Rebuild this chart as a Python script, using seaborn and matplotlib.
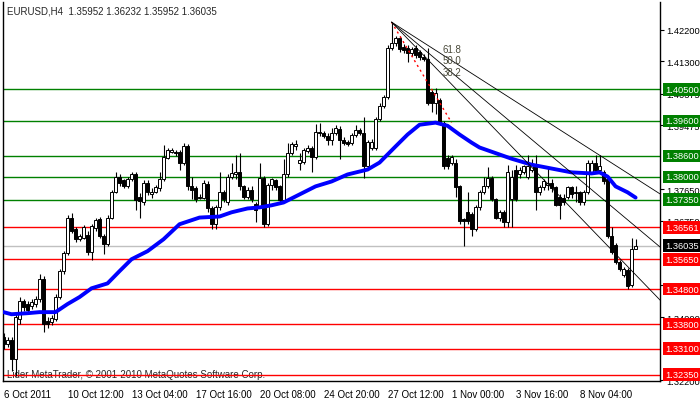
import numpy as np
import pandas as pd
import seaborn as sns
import matplotlib.pyplot as plt
from matplotlib.transforms import blended_transform_factory

# EURUSD H4 candles (one value per bar, left to right)
opens = [1.3343, 1.3323, 1.3334, 1.3280, 1.3394, 1.3445, 1.3437, 1.3431, 1.3437, 1.3451,
         1.3508, 1.3388, 1.3385, 1.3394, 1.3457, 1.3531, 1.3582, 1.3684, 1.3650, 1.3622,
         1.3627, 1.3633, 1.3585, 1.3653, 1.3679, 1.3630, 1.3608, 1.3684, 1.3758, 1.3801,
         1.3790, 1.3773, 1.3793, 1.3807, 1.3744, 1.3727, 1.3784, 1.3750, 1.3758, 1.3767,
         1.3793, 1.3855, 1.3872, 1.3872, 1.3872, 1.3841, 1.3889, 1.3775, 1.3767, 1.3744,
         1.3741, 1.3781, 1.3710, 1.3665, 1.3713, 1.3758, 1.3727, 1.3801, 1.3807, 1.3815,
         1.3773, 1.3744, 1.3764, 1.3724, 1.3716, 1.3798, 1.3665, 1.3778, 1.3790, 1.3773,
         1.3733, 1.3807, 1.3869, 1.3889, 1.3841, 1.3844, 1.3875, 1.3884, 1.3858, 1.3929,
         1.3924, 1.3918, 1.3906, 1.3926, 1.3938, 1.3906, 1.3901, 1.3898, 1.3921, 1.3935,
         1.3926, 1.3830, 1.3884, 1.3884, 1.3966, 1.4003, 1.4029, 1.4168, 1.4183, 1.4197,
         1.4171, 1.4168, 1.4154, 1.4168, 1.4157, 1.4143, 1.4137, 1.4043, 1.4012, 1.4020,
         1.3955, 1.3855, 1.3841, 1.3841, 1.3773, 1.3679, 1.3699, 1.3693, 1.3650, 1.3713,
         1.3756, 1.3773, 1.3798, 1.3736, 1.3684, 1.3701, 1.3670, 1.3736, 1.3821, 1.3807,
         1.3815, 1.3801, 1.3821, 1.3835, 1.3756, 1.3770, 1.3778, 1.3784, 1.3770, 1.3744,
         1.3741, 1.3744, 1.3770, 1.3756, 1.3756, 1.3727, 1.3756, 1.3813, 1.3841, 1.3821,
         1.3815, 1.3795, 1.3630, 1.3605, 1.3556, 1.3519, 1.3534, 1.3491, 1.35952]
highs = [1.3354, 1.3343, 1.3343, 1.3408, 1.3457, 1.3451, 1.3445, 1.3451, 1.3460, 1.3522,
         1.3516, 1.3400, 1.3405, 1.3465, 1.3536, 1.3588, 1.3690, 1.3696, 1.3656, 1.3636,
         1.3662, 1.3645, 1.3665, 1.3682, 1.3687, 1.3636, 1.3690, 1.3764, 1.3815, 1.3807,
         1.3795, 1.3801, 1.3815, 1.3815, 1.3753, 1.3790, 1.3790, 1.3767, 1.3778, 1.3813,
         1.3892, 1.3884, 1.3884, 1.3878, 1.3878, 1.3898, 1.3895, 1.3801, 1.3775, 1.3750,
         1.3790, 1.3787, 1.3716, 1.3721, 1.3815, 1.3764, 1.3807, 1.3841, 1.3864, 1.3869,
         1.3778, 1.3770, 1.3773, 1.3727, 1.3841, 1.3804, 1.3784, 1.3798, 1.3795, 1.3778,
         1.3850, 1.3898, 1.3901, 1.3906, 1.3869, 1.3884, 1.3892, 1.3889, 1.3952, 1.3955,
         1.3932, 1.3926, 1.3941, 1.3949, 1.3944, 1.3915, 1.3906, 1.3926, 1.3949, 1.3941,
         1.3972, 1.3906, 1.3909, 1.3972, 1.4012, 1.4035, 1.4177, 1.4242, 1.4203, 1.4203,
         1.4180, 1.4177, 1.4171, 1.4177, 1.4163, 1.4151, 1.4168, 1.4049, 1.4054, 1.4026,
         1.3961, 1.3864, 1.3864, 1.3850, 1.3778, 1.3684, 1.3758, 1.3699, 1.3719, 1.3764,
         1.3801, 1.3827, 1.3804, 1.3741, 1.3707, 1.3707, 1.3835, 1.3821, 1.3835, 1.3827,
         1.3835, 1.3864, 1.3850, 1.3864, 1.3778, 1.3793, 1.3827, 1.3793, 1.3775, 1.3750,
         1.3750, 1.3775, 1.3775, 1.3773, 1.3761, 1.3764, 1.3847, 1.3847, 1.3864, 1.3864,
         1.3821, 1.3801, 1.3656, 1.3610, 1.3562, 1.3542, 1.3539, 1.3627, 1.36232]
lows = [1.3309, 1.3314, 1.3246, 1.3232, 1.3380, 1.3417, 1.3411, 1.3422, 1.3428, 1.3442,
        1.3357, 1.3368, 1.3377, 1.3388, 1.3451, 1.3522, 1.3576, 1.3639, 1.3613, 1.3616,
        1.3622, 1.3576, 1.3562, 1.3647, 1.3625, 1.3579, 1.3602, 1.3679, 1.3753, 1.3775,
        1.3767, 1.3767, 1.3787, 1.3707, 1.3682, 1.3721, 1.3747, 1.3741, 1.3753, 1.3761,
        1.3787, 1.3850, 1.3867, 1.3861, 1.3821, 1.3835, 1.3764, 1.3736, 1.3727, 1.3736,
        1.3736, 1.3699, 1.3650, 1.3650, 1.3707, 1.3727, 1.3721, 1.3793, 1.3793, 1.3764,
        1.3736, 1.3736, 1.3727, 1.3670, 1.3710, 1.3656, 1.3659, 1.3764, 1.3764, 1.3727,
        1.3727, 1.3801, 1.3864, 1.3878, 1.3821, 1.3838, 1.3869, 1.3815, 1.3852, 1.3918,
        1.3912, 1.3892, 1.3892, 1.3921, 1.3850, 1.3892, 1.3889, 1.3892, 1.3915, 1.3921,
        1.3798, 1.3824, 1.3878, 1.3878, 1.3961, 1.3998, 1.4023, 1.4163, 1.4174, 1.4157,
        1.4154, 1.4129, 1.4146, 1.4140, 1.4134, 1.4131, 1.4006, 1.3986, 1.3980, 1.3949,
        1.3824, 1.3824, 1.3833, 1.3744, 1.3667, 1.3602, 1.3665, 1.3630, 1.3645, 1.3707,
        1.3750, 1.3767, 1.3730, 1.3679, 1.3673, 1.3656, 1.3656, 1.3656, 1.3730, 1.3798,
        1.3807, 1.3795, 1.3815, 1.3707, 1.3747, 1.3764, 1.3764, 1.3758, 1.3716, 1.3679,
        1.3721, 1.3736, 1.3741, 1.3727, 1.3721, 1.3721, 1.3750, 1.3807, 1.3815, 1.3815,
        1.3781, 1.3625, 1.3579, 1.3551, 1.3531, 1.3514, 1.3479, 1.3485, 1.35952]
closes = [1.3323, 1.3334, 1.3280, 1.3400, 1.3445, 1.3428, 1.3420, 1.3442, 1.3451, 1.3508,
          1.3380, 1.3380, 1.3397, 1.3457, 1.3531, 1.3582, 1.3684, 1.3645, 1.3622, 1.3630,
          1.3656, 1.3585, 1.3659, 1.3676, 1.3630, 1.3608, 1.3684, 1.3758, 1.3801, 1.3784,
          1.3775, 1.3793, 1.3807, 1.3733, 1.3730, 1.3784, 1.3756, 1.3758, 1.3770, 1.3795,
          1.3858, 1.3878, 1.3878, 1.3867, 1.3841, 1.3889, 1.3773, 1.3764, 1.3738, 1.3741,
          1.3784, 1.3710, 1.3665, 1.3713, 1.3758, 1.3736, 1.3801, 1.3810, 1.3815, 1.3773,
          1.3744, 1.3764, 1.3736, 1.3707, 1.3798, 1.3665, 1.3778, 1.3793, 1.3770, 1.3733,
          1.3807, 1.3869, 1.3895, 1.3895, 1.3847, 1.3878, 1.3884, 1.3858, 1.3929, 1.3924,
          1.3918, 1.3906, 1.3926, 1.3941, 1.3906, 1.3898, 1.3895, 1.3921, 1.3935, 1.3926,
          1.3832, 1.3901, 1.3901, 1.3966, 1.4003, 1.4029, 1.4168, 1.4183, 1.4197, 1.4165,
          1.4163, 1.4154, 1.4165, 1.4148, 1.4143, 1.4137, 1.4012, 1.4012, 1.4040, 1.3958,
          1.3830, 1.3830, 1.3858, 1.3770, 1.3673, 1.3673, 1.3673, 1.3650, 1.3713, 1.3756,
          1.3773, 1.3798, 1.3736, 1.3684, 1.3701, 1.3670, 1.3813, 1.3801, 1.3736, 1.3821,
          1.3830, 1.3832, 1.3835, 1.3758, 1.3770, 1.3787, 1.3784, 1.3767, 1.3721, 1.3721,
          1.3727, 1.3770, 1.3750, 1.3753, 1.3727, 1.3756, 1.3841, 1.3841, 1.3821, 1.3830,
          1.3787, 1.3630, 1.3585, 1.3556, 1.3536, 1.3536, 1.3488, 1.3593, 1.36035]

# moving average (blue line), read at selected bars
ma_bars = [0, 2, 6, 9, 13, 16, 19, 22, 26, 29, 32, 36, 40, 44, 49, 54, 57, 61, 64, 67,
           70, 74, 78, 82, 86, 91, 94, 98, 101, 104, 108, 111, 114, 117, 119, 124, 127,
           132, 137, 142, 147, 149, 151, 153, 156, 158]
ma_values = [1.3414, 1.3408, 1.3411, 1.3414, 1.3414, 1.3437, 1.3457, 1.3482, 1.3496, 1.3531,
             1.3565, 1.3588, 1.3622, 1.3665, 1.3684, 1.3687, 1.3699, 1.3710, 1.3713, 1.3719,
             1.3727, 1.3750, 1.3773, 1.3787, 1.3807, 1.3821, 1.3841, 1.3887, 1.3921, 1.3949,
             1.3955, 1.3946, 1.3921, 1.3898, 1.3884, 1.3864, 1.3852, 1.3835, 1.3824, 1.3813,
             1.3810, 1.3813, 1.3801, 1.3773, 1.3756, 1.3741]

green_levels = [1.40500, 1.39600, 1.38600, 1.38000, 1.37350]
red_levels = [1.36561, 1.35650, 1.34800, 1.33800, 1.33100, 1.32350]
bid_price = 1.36035

# scale labels (the ones fully covered by level boxes are left out)
price_ticks = [1.42200, 1.41300, 1.40375, 1.39475, 1.37650,
               1.36750, 1.34925, 1.34000, 1.32200]
date_ticks = [0, 16, 32, 48, 64, 80, 96, 112, 128, 144]
date_labels = ['6 Oct 2011', '10 Oct 12:00', '13 Oct 04:00', '17 Oct 16:00', '20 Oct 08:00',
               '24 Oct 20:00', '27 Oct 12:00', '1 Nov 00:00', '3 Nov 16:00', '8 Nov 04:00']

# Fibonacci fan: from the high (bar 97) to the base point
fan_start = (97, 1.4242)
fan_end = (112, 1.3955)
fan_ratios = [0.382, 0.5, 0.618]
fan_labels = ['61.8', '50.0', '38.2']

header = 'EURUSD,H4  1.35952 1.36232 1.35952 1.36035'
copyright_text = 'Lider MetaTrader, \u00a9 2001-2010 MetaQuotes Software Corp.'

GREEN = '#008000'
RED = '#FF0000'
FS = 7
FS_SCALE = 6.7

sns.set_style('white')
plt.rcParams['font.family'] = ['Liberation Sans', 'DejaVu Sans']

df = pd.DataFrame({'open': opens, 'high': highs, 'low': lows, 'close': closes})
df['bar'] = np.arange(len(df))
ma = pd.DataFrame({'bar': ma_bars, 'ma': ma_values})

fig = plt.figure(figsize=(7.0, 4.02), dpi=100)
ax = fig.add_axes([3 / 700, 20 / 402, 657 / 700, 379 / 402])

x_min, x_max = -0.125, 164.1
ax.set_xlim(x_min, x_max)
ax.set_ylim(1.32174, 1.42994)

# horizontal levels
for lv in green_levels:
    ax.axhline(lv, color=GREEN, lw=1.0, zorder=1)
for lv in red_levels:
    ax.axhline(lv, color=RED, lw=1.0, zorder=1)
ax.axhline(bid_price, color='#C0C0C0', lw=1.0, zorder=1)

# candles
ax.vlines(df['bar'], df['low'], df['high'], color='black', lw=0.8, zorder=2)
up = df['close'] >= df['open']
body_bottom = df[['open', 'close']].min(axis=1)
body_height = (df['close'] - df['open']).abs().clip(lower=0.00006)
ax.bar(df['bar'][up], body_height[up], bottom=body_bottom[up], width=0.7,
       color='white', edgecolor='black', linewidth=0.7, zorder=3)
ax.bar(df['bar'][~up], body_height[~up], bottom=body_bottom[~up], width=0.7,
       color='black', edgecolor='black', linewidth=0.7, zorder=3)

# moving average
sns.lineplot(data=ma, x='bar', y='ma', color='#0000FF', lw=2.8, ax=ax,
             estimator=None, sort=False, zorder=4)

# Fibonacci fan
x0, p0 = fan_start
x1, p1 = fan_end
ax.plot([x0, x1], [p0, p1], color=RED, lw=1.0, ls=(0, (1.5, 2.5)), zorder=5)
for r, lab in zip(fan_ratios, fan_labels):
    slope = -r * (p0 - p1) / (x1 - x0)
    ax.plot([x0, x_max + 2], [p0, p0 + slope * (x_max + 2 - x0)], color='black',
            lw=0.6, zorder=5)
    ax.annotate(lab, xy=(x1, p0 + slope * (x1 - x0)), xytext=(0, 5),
                textcoords='offset points', ha='center', va='bottom',
                fontsize=FS, color='#4a4a3a', zorder=6)

# axes styling
ax.yaxis.tick_right()
ax.set_yticks(price_ticks)
ax.set_yticklabels(['%.5f' % t for t in price_ticks])
ax.set_xticks(date_ticks)
ax.set_xticklabels(date_labels, ha='left')
ax.tick_params(axis='y', direction='out', length=3, width=0.8, pad=1.5,
               labelsize=FS_SCALE, colors='black')
ax.tick_params(axis='x', direction='out', length=4, width=0.8, pad=2,
               labelsize=FS, colors='black')
ax.set_xlabel('')
ax.set_ylabel('')
for side in ['left', 'right', 'bottom']:
    ax.spines[side].set_color('black')
    ax.spines[side].set_linewidth(1.0)
ax.spines['top'].set_visible(False)

# price label boxes on the right
trans = blended_transform_factory(ax.transAxes, ax.transData)
boxes = [(lv, GREEN) for lv in green_levels] + [(lv, RED) for lv in red_levels]
boxes.append((bid_price, 'black'))
for lv, col in boxes:
    ax.text(1.0075, lv, '%.5f' % lv, transform=trans, color='white', fontsize=FS_SCALE,
            va='center', ha='left', clip_on=False, zorder=10,
            bbox=dict(facecolor=col, edgecolor='none', boxstyle='square,pad=0.2'))

# header and copyright
ax.annotate(header, xy=(0, 1), xycoords='axes fraction', xytext=(4, -3),
            textcoords='offset pixels', ha='left', va='top', fontsize=FS, zorder=6)
ax.text(0.006, 0.004, copyright_text, transform=ax.transAxes, ha='left',
        va='bottom', fontsize=FS, zorder=0.5)

fig.savefig('out.png', dpi=100)
